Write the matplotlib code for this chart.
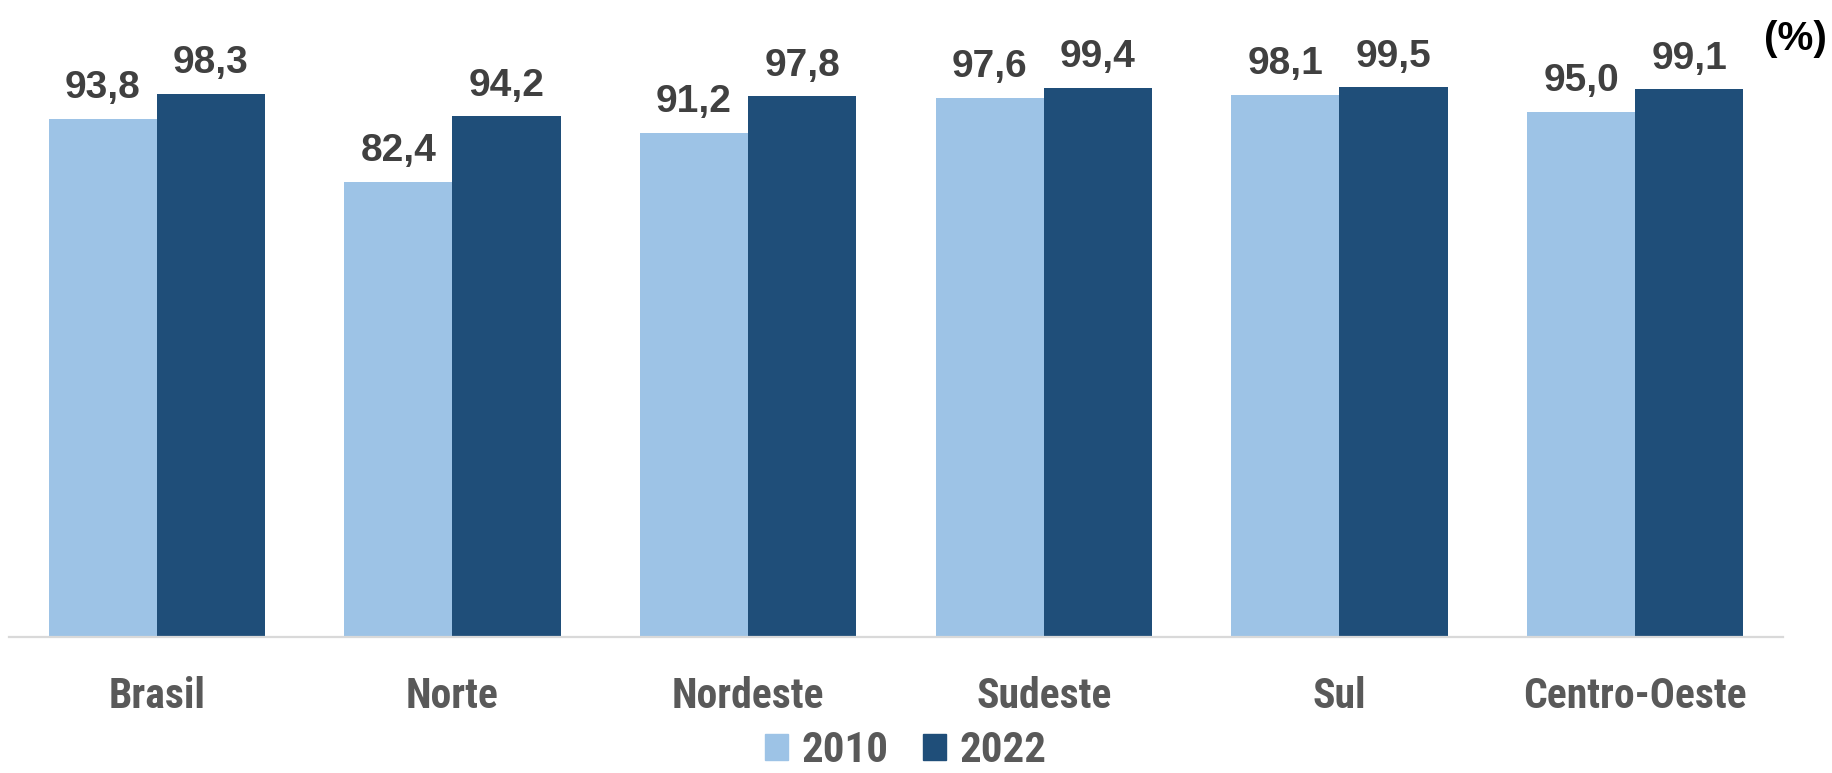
import matplotlib.pyplot as plt
import numpy as np
from matplotlib.patches import Patch

# data
regioes = ['Brasil', 'Norte', 'Nordeste', 'Sudeste', 'Sul', 'Centro-Oeste']
anos = ['2010', '2022']
valores_2010 = [93.8, 82.4, 91.2, 97.6, 98.1, 95.0]
valores_2022 = [98.3, 94.2, 97.8, 99.4, 99.5, 99.1]

cor_2010 = '#9DC3E6'
cor_2022 = '#1F4E79'
fonte_cat = ['Liberation Sans Narrow', 'Roboto Condensed', 'Liberation Sans', 'DejaVu Sans']
fonte_num = ['Liberation Sans', 'DejaVu Sans']

fig = plt.figure(figsize=(18.33, 7.73), dpi=100)
ax = fig.add_axes([0.0049, 0.176, 0.9678, 0.715])

x = np.arange(len(regioes))
w = 0.366
b1 = ax.bar(x - w / 2, valores_2010, w, color=cor_2010)
b2 = ax.bar(x + w / 2, valores_2022, w, color=cor_2022)

# value labels with comma decimal
for bars, vals in [(b1, valores_2010), (b2, valores_2022)]:
    ax.bar_label(bars, labels=[f'{v:.1f}'.replace('.', ',') for v in vals],
                 padding=9, fontsize=28, fontweight='bold', color='#404040',
                 family=fonte_num, clip_on=False)

ax.set_xlim(-0.5, 5.5)
ax.set_ylim(0, 100)
ax.set_xticks(x)
ax.set_xticklabels(regioes, fontsize=30, fontweight='bold', color='#595959', family=fonte_cat)
ax.tick_params(axis='x', length=0, pad=28)
ax.set_yticks([])
for s in ['top', 'right', 'left']:
    ax.spines[s].set_visible(False)
ax.spines['bottom'].set_color('#D9D9D9')
ax.spines['bottom'].set_linewidth(1.6)

fig.text(0.9965, 0.95, '(%)', ha='right', va='center', fontsize=29,
         fontweight='bold', color='black', family=fonte_num)

handles = [Patch(color=cor_2010), Patch(color=cor_2022)]
fig.legend(handles, anos, loc='lower center', bbox_to_anchor=(0.494, 0.002), ncol=2,
           frameon=False, handlelength=0.55, handleheight=0.55, handletextpad=0.3,
           columnspacing=0.8, borderaxespad=0, borderpad=0.0,
           prop={'family': fonte_cat, 'size': 31, 'weight': 'bold'},
           labelcolor='#595959')

fig.savefig('out.png', dpi=100)
